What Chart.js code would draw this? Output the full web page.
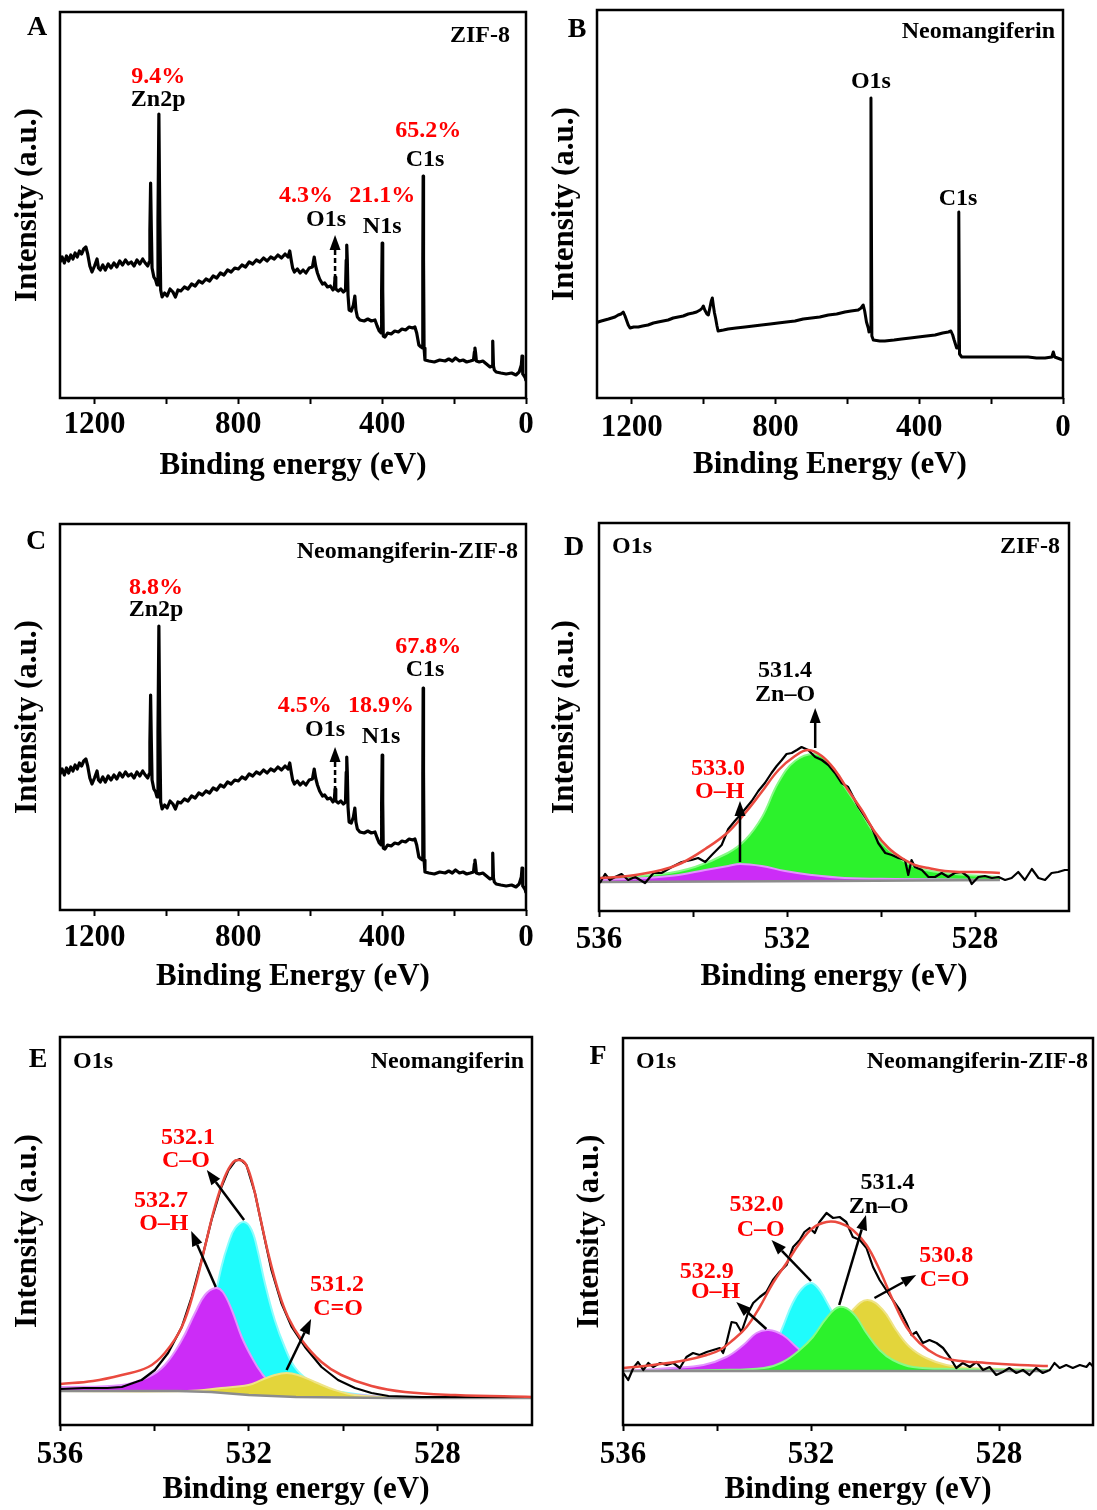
<!DOCTYPE html>
<html lang="en">
<head>
<meta charset="UTF-8">
<title>XPS survey and O1s spectra</title>
<script src="https://cdn.jsdelivr.net/npm/chart.js"></script>
<style>
  body { margin: 0; background: #fff; }
  .sheet { position: relative; width: 1097px; height: 1510px; background: #fff; }
  .sheet canvas { position: absolute; }
</style>
</head>
<body>
<div class="sheet">
  <canvas id="panelA" width="548" height="495" style="left:0;top:0"></canvas>
  <canvas id="panelB" width="557" height="495" style="left:540px;top:0"></canvas>
  <canvas id="panelC" width="548" height="495" style="left:0;top:510px"></canvas>
  <canvas id="panelD" width="557" height="495" style="left:540px;top:510px"></canvas>
  <canvas id="panelE" width="560" height="490" style="left:0;top:1020px"></canvas>
  <canvas id="panelF" width="537" height="490" style="left:560px;top:1020px"></canvas>
</div>
<script>
  // ---- axis ticks ----
  const surveyTicks = [1200, 1000, 800, 600, 400, 200, 0];
  const surveyLabels = [1200, 800, 400, 0];
  const o1sTicks = [536, 534, 532, 530, 528];
  const o1sLabels = [536, 532, 528];

  // ---- survey spectra: [binding energy (eV), counts (a.u.)] ----
  const zifSurvey = [[1296,136],[1290,141],[1284,135],[1278,142],[1272,137],[1266,143],[1260,139],[1254,145],[1248,141],[1242,147],[1236,144],[1230,149],[1224,151],[1219,144],[1213,132],[1207,126],[1200,132],[1193,139],[1189,130],[1184,128],[1177,133],[1170,128],[1162,134],[1154,130],[1146,135],[1138,131],[1130,137],[1122,133],[1114,138],[1106,134],[1098,136],[1090,132],[1082,138],[1074,134],[1066,139],[1059,135],[1052,132],[1048,136],[1046,168],[1044,215],[1042,168],[1040,130],[1035,121],[1030,118],[1026,113],[1023.5,178],[1021,284],[1018.5,178],[1016,108],[1012,101],[1005,105],[998,102],[990,109],[982,106],[975,101],[968,108],[960,107],[950,111],[940,109],[930,114],[920,112],[910,117],[900,115],[890,119],[880,117],[870,122],[860,120],[850,125],[840,123],[830,128],[820,126],[810,130],[800,129],[790,133],[780,131],[770,136],[760,134],[750,138],[740,136],[730,140],[720,137],[710,141],[700,139],[690,143],[680,140],[670,144],[662,141],[657,147],[653,138],[649,130],[644,126],[636,129],[628,125],[620,128],[612,125],[603,130],[594,131],[589,141],[585,132],[580,125],[574,119],[566,114],[560,115],[552,111],[544,112],[537,108],[533,111],[531,121],[529,109],[522,107],[515,109],[508,106],[502,108],[500,138],[498.5,153],[497,138],[495,103],[492,88],[486,87],[480,93],[476,102],[473,88],[469,81],[462,78],[450,77],[440,79],[430,77],[420,78],[414,72],[408,67],[403,65],[401.5,108],[400,155],[398.5,108],[397,62],[392,61],[385,65],[375,64],[365,67],[355,66],[345,69],[335,68],[325,71],[315,70],[309,71],[304,65],[298,53],[292,51],[288,50],[287,138],[286,222],[285,138],[283.5,50],[281,38],[270,37],[255,36],[240,38],[225,37],[215,39],[205,37],[196,40],[185,37],[175,38],[165,36],[155,37],[146,38],[143.5,46],[142,50],[140.5,46],[138,37],[130,36],[120,37],[110,34],[100,31],[94.5,32],[92.5,57],[90.5,32],[88,28],[83,26],[70,25],[55,24],[40,25],[28,23],[19,26],[13,33],[11,42],[9,24],[5,22],[2,20],[0,17]];

  const neoSurvey = [[1297,75],[1294,76],[1285,77],[1275,78],[1265,79],[1256,80],[1247,81],[1238,83],[1230,84],[1224,86],[1219,82],[1215,78],[1210,73],[1205,70],[1195,71],[1182,71],[1170,72],[1155,73],[1140,75],[1127,76],[1113,77],[1099,78],[1085,80],[1071,81],[1057,82],[1043,84],[1030,85],[1020,86],[1010,88],[1004,90],[1001,92],[997,88],[991,84],[987,83],[983,90],[979,97],[976,100],[973,92],[970,85],[967,80],[963,72],[960,67],[945,68],[932,69],[910,70],[885,71],[862,72],[839,73],[815,74],[793,75],[770,76],[746,77],[723,79],[700,80],[677,81],[653,83],[630,84],[607,86],[590,87],[570,88],[562,90],[556,93],[552,87],[547,76],[542,70],[540,66],[537,70],[534.5,300],[532,62],[528,58],[510,57],[496,57],[470,58],[449,59],[425,60],[403,61],[380,62],[356,63],[335,65],[319,66],[312,67],[307,63],[303,58],[296,50],[292,50],[290,186],[288,44],[282,41],[260,41],[236,41],[212,41],[189,41],[166,41],[143,41],[120,41],[97,41],[74,40],[50,40],[31,41],[27,46],[23,41],[8,39],[0,38]];

  const compSurvey = [[1296,136],[1290,141],[1284,135],[1278,142],[1272,137],[1266,143],[1260,139],[1254,145],[1248,141],[1242,147],[1236,144],[1230,149],[1224,151],[1219,144],[1213,132],[1207,126],[1200,132],[1193,139],[1189,130],[1184,128],[1177,133],[1170,128],[1162,134],[1154,130],[1146,135],[1138,131],[1130,137],[1122,133],[1114,138],[1106,134],[1098,136],[1090,132],[1082,138],[1074,134],[1066,139],[1059,135],[1052,132],[1048,136],[1046,168],[1044,215],[1042,168],[1040,130],[1035,121],[1030,118],[1026,113],[1023.5,178],[1021,284],[1018.5,178],[1016,108],[1012,101],[1005,105],[998,102],[990,109],[982,106],[975,101],[968,108],[960,107],[950,111],[940,109],[930,114],[920,112],[910,117],[900,115],[890,119],[880,117],[870,122],[860,120],[850,125],[840,123],[830,128],[820,126],[810,130],[800,129],[790,133],[780,131],[770,136],[760,134],[750,138],[740,136],[730,140],[720,137],[710,141],[700,139],[690,143],[680,140],[670,144],[662,141],[657,147],[653,138],[649,130],[644,126],[636,129],[628,125],[620,128],[612,125],[603,130],[594,131],[589,141],[585,132],[580,125],[574,119],[566,114],[560,115],[552,111],[544,112],[537,108],[533,111],[531,121],[529,109],[522,107],[515,109],[508,106],[502,108],[500,138],[498.5,153],[497,138],[495,103],[492,88],[486,87],[480,93],[476,102],[473,88],[469,81],[462,78],[450,77],[440,79],[430,77],[420,78],[414,72],[408,67],[403,65],[401.5,108],[400,155],[398.5,108],[397,62],[392,61],[385,65],[375,64],[365,67],[355,66],[345,69],[335,68],[325,71],[315,70],[309,71],[304,65],[298,53],[292,51],[288,50],[287,138],[286,222],[285,138],[283.5,50],[281,38],[270,37],[255,36],[240,38],[225,37],[215,39],[205,37],[196,40],[185,37],[175,38],[165,36],[155,37],[146,38],[143.5,46],[142,50],[140.5,46],[138,37],[130,36],[120,37],[110,34],[100,31],[94.5,32],[92.5,57],[90.5,32],[88,28],[83,26],[70,25],[55,24],[40,25],[28,23],[19,26],[13,33],[11,42],[9,24],[5,22],[2,20],[0,17]];

  // ---- O1s, ZIF-8 ----
  const zifPeaks = [531.4, 533.0];
  const zifO1sRaw = [[535.98,28],[535.87,37],[535.77,31],[535.66,34],[535.52,37],[535.38,31],[535.23,34],[535.02,28],[534.84,38],[534.67,38],[534.45,44],[534.24,49],[534.03,51],[533.89,53],[533.74,49],[533.60,56],[533.39,66],[533.25,82],[533.11,90],[532.96,98],[532.75,110],[532.61,120],[532.47,128],[532.33,138],[532.22,145],[532.11,151],[532.01,157],[531.90,158],[531.79,161],[531.69,164],[531.55,161],[531.40,154],[531.26,151],[531.12,146],[530.98,138],[530.84,128],[530.70,124],[530.48,104],[530.34,94],[530.20,84],[530.06,68],[529.91,58],[529.77,56],[529.63,53],[529.49,51],[529.42,36],[529.35,51],[529.28,44],[529.13,41],[528.99,34],[528.85,34],[528.71,38],[528.57,34],[528.43,38],[528.28,39],[528.14,34],[528.07,27],[527.93,34],[527.79,35],[527.64,33],[527.50,34],[527.36,31],[527.22,33],[527.08,39],[526.94,31],[526.79,42],[526.65,33],[526.51,31],[526.37,38],[526.23,39],[526.09,41],[526.02,41]];
  const zifO1sFit = [[535.98,33],[535.38,35],[534.67,41],[534.24,48],[533.74,62],[533.25,79],[532.89,98],[532.54,119],[532.18,141],[531.83,155],[531.55,161],[531.26,155],[530.98,141],[530.70,121],[530.41,101],[530.13,79],[529.84,63],[529.56,53],[529.28,46],[528.99,43],[528.64,40],[528.28,39],[527.93,39],[527.47,38]];
  const zifO1sBase = [[535.98,29],[531.0,30],[527.47,31]];
  const zifZnO = [[535.98,33],[534.66,37],[533.96,44],[533.26,58],[532.89,71],[532.53,94],[532.19,128],[531.83,150],[531.4,157],[531.1,147],[530.83,128],[530.49,104],[530.06,72],[529.70,56],[529.28,44],[528.64,38],[527.47,34]];
  const zifOH = [[535.98,31],[535.02,33],[534.31,36],[533.74,41],[533.25,45],[533.0,47],[532.54,45],[532.04,40],[531.48,36],[530.77,33],[529.70,32],[527.47,31]];

  // ---- O1s, Neomangiferin ----
  const neoPeaks = [532.1, 532.7, 531.2];
  const neoO1sRaw = [[536.0,36],[535.5,37],[535.0,37],[534.69,38],[534.27,45],[533.99,55],[533.71,72],[533.42,98],[533.21,128],[533.0,165],[532.79,205],[532.58,238],[532.43,255],[532.29,264],[532.19,266],[532.05,260],[531.87,232],[531.69,192],[531.52,155],[531.31,122],[531.09,98],[530.81,78],[530.46,58],[530.11,45],[529.75,37],[529.40,32],[529.04,29],[528.34,28],[527.0,28],[526.0,28]];
  const neoO1sFit = [[536.0,41],[535.3,44],[534.69,50],[534.13,58],[533.78,72],[533.42,98],[533.14,138],[532.93,178],[532.72,218],[532.51,248],[532.33,263],[532.2,265],[532.08,262],[531.94,245],[531.76,208],[531.59,172],[531.38,135],[531.17,108],[530.88,85],[530.46,63],[530.04,50],[529.40,39],[528.69,33],[527.63,30],[526.0,28]];
  const neoO1sBase = [[536.0,34],[533.5,34],[532.8,33],[532.0,30],[531.0,28],[529.0,27],[526.0,27]];
  const neoCO = [[536.0,37],[535.0,36],[534.0,37],[533.6,40],[533.3,50],[533.0,75],[532.8,110],[532.58,158],[532.43,182],[532.29,197],[532.1,203],[531.94,195],[531.80,172],[531.66,142],[531.45,105],[531.24,78],[531.03,58],[530.74,45],[530.39,37],[529.90,32],[529.04,28],[527.0,27],[526.0,27]];
  const neoOH = [[536.0,38],[534.69,40],[534.13,48],[533.78,60],[533.42,85],[533.14,112],[532.93,130],[532.7,137],[532.55,133],[532.36,115],[532.15,88],[531.94,68],[531.73,52],[531.52,42],[531.17,37],[530.46,33],[529.04,28],[527.0,27],[526.0,27]];
  const neoCdO = [[536.0,34],[533.3,34],[532.58,37],[532.01,40],[531.73,45],[531.45,50],[531.2,52],[530.96,50],[530.60,43],[530.18,35],[529.75,30],[529.04,28],[527.0,27],[526.0,27]];

  // ---- O1s, Neomangiferin-ZIF-8 ----
  const compPeaks = [532.0, 531.4, 530.8, 532.9];
  const compO1sRaw = [[535.99,52],[535.89,45],[535.78,57],[535.68,63],[535.57,55],[535.46,62],[535.36,58],[535.21,62],[535.07,60],[534.93,62],[534.79,57],[534.65,68],[534.51,72],[534.37,70],[534.22,73],[534.08,75],[533.94,77],[533.87,72],[533.80,82],[533.69,103],[533.59,102],[533.48,93],[533.34,112],[533.23,122],[533.09,128],[532.95,133],[532.81,145],[532.67,153],[532.52,160],[532.38,178],[532.24,185],[532.14,193],[532.03,197],[531.92,192],[531.82,203],[531.67,212],[531.53,207],[531.39,208],[531.25,203],[531.11,188],[530.96,185],[530.82,177],[530.68,158],[530.54,145],[530.40,135],[530.26,125],[530.11,115],[529.97,102],[529.86,90],[529.76,93],[529.62,82],[529.48,85],[529.33,82],[529.19,77],[529.05,68],[528.91,57],[528.77,62],[528.62,58],[528.48,63],[528.34,55],[528.20,58],[528.06,50],[527.92,53],[527.78,57],[527.63,52],[527.49,55],[527.35,50],[527.21,57],[527.07,52],[526.92,55],[526.82,62],[526.71,57],[526.57,60],[526.43,57],[526.28,60],[526.14,58],[526.07,62],[525.99,58]];
  const compO1sFit = [[535.99,57],[535.36,60],[534.65,65],[534.22,70],[533.94,75],[533.66,85],[533.37,98],[533.09,118],[532.81,142],[532.52,162],[532.24,182],[531.96,197],[531.67,203],[531.39,202],[531.11,195],[530.82,180],[530.54,155],[530.26,125],[529.97,98],[529.69,82],[529.33,70],[528.98,65],[528.27,62],[527.56,60],[526.96,59]];
  const compO1sBase = [[535.99,54],[531.0,54],[526.96,54]];
  const compOH = [[535.99,54],[535.0,57],[534.29,60],[533.80,68],[533.44,80],[533.16,92],[532.9,95],[532.60,90],[532.31,78],[532.03,67],[531.67,60],[531.11,57],[530.04,55],[526.96,54]];
  const compCO = [[535.99,54],[534.0,55],[533.3,57],[533.0,63],[532.8,76],[532.6,98],[532.4,121],[532.2,136],[532.0,142],[531.85,137],[531.7,126],[531.5,108],[531.3,86],[531.1,69],[530.8,58],[530.4,55],[526.96,54]];
  const compZnO = [[535.99,54],[534.0,55],[533.0,57],[532.6,63],[532.24,75],[531.96,88],[531.67,107],[531.4,118],[531.11,112],[530.82,92],[530.54,75],[530.26,65],[529.83,58],[528.98,56],[526.96,55]];
  const compCdO = [[535.99,54],[533.0,55],[532.2,57],[531.8,64],[531.5,82],[531.3,100],[531.11,115],[530.8,125],[530.47,115],[530.19,95],[529.90,78],[529.55,67],[529.12,60],[528.62,57],[526.96,55]];

  const SERIF = 'Liberation Serif';
  const axisFont = { family: SERIF, size: 31, weight: 'bold' };
  const RED = '#ff0000';
  const COLORS = {
    green: ['#2cf22c', '#86fb86'],
    magenta: ['#cc2cf7', '#e493ff'],
    cyan: ['#1ffcfc', '#8afdfd'],
    yellow: ['#e3d53b', '#efe485']
  };

  const pts = arr => arr.map(p => ({ x: p[0], y: p[1] }));

  function rawLine(arr, width) {
    return { data: pts(arr), borderColor: '#000', borderWidth: width, tension: 0, borderJoinStyle: 'round', order: 2 };
  }
  function fitLine(arr) {
    return { data: pts(arr), borderColor: '#ea4a3f', borderWidth: 2.5, tension: 0.4, order: 1 };
  }
  function baseLine(arr) {
    return { data: pts(arr), borderColor: '#8c8c8c', borderWidth: 2.5, tension: 0, order: 3 };
  }
  // a fitted component, filled down to the background line (dataset 0)
  function component(arr, color, order) {
    return {
      data: pts(arr), borderColor: COLORS[color][1], backgroundColor: COLORS[color][0],
      borderWidth: 2, fill: 0, tension: 0.4, order: order
    };
  }

  function drawArrow(ctx, x0, y0, x1, y1, dashed) {
    const ang = Math.atan2(y1 - y0, x1 - x0);
    const head = 15, half = 5.5;
    const bx = x1 - head * Math.cos(ang), by = y1 - head * Math.sin(ang);
    ctx.setLineDash(dashed ? [5, 3] : []);
    ctx.beginPath();
    ctx.moveTo(x0, y0);
    ctx.lineTo(bx, by);
    ctx.stroke();
    ctx.setLineDash([]);
    ctx.beginPath();
    ctx.moveTo(x1, y1);
    ctx.lineTo(bx + half * Math.sin(ang), by - half * Math.cos(ang));
    ctx.lineTo(bx - half * Math.sin(ang), by + half * Math.cos(ang));
    ctx.closePath();
    ctx.fill();
  }

  // frame, arrows, peak notes and panel captions
  function decor(o) {
    return {
      id: 'decor',
      afterDraw(chart) {
        const { ctx, chartArea: a, scales: { x, y } } = chart;
        ctx.save();
        ctx.strokeStyle = '#000';
        ctx.fillStyle = '#000';
        ctx.lineWidth = 2.5;
        ctx.strokeRect(a.left, a.top, a.right - a.left, a.bottom - a.top);
        (o.arrows || []).forEach(r => {
          drawArrow(ctx, x.getPixelForValue(r[0]), y.getPixelForValue(r[1]),
            x.getPixelForValue(r[2]), y.getPixelForValue(r[3]), r[4]);
        });
        ctx.textAlign = 'center';
        ctx.textBaseline = 'middle';
        ctx.font = 'bold 24px "' + SERIF + '"';
        (o.notes || []).forEach(n => {
          ctx.fillStyle = n.color || '#000';
          ctx.fillText(n.text, x.getPixelForValue(n.x), y.getPixelForValue(n.y));
        });
        ctx.fillStyle = '#000';
        if (o.left) {
          ctx.textAlign = 'left';
          ctx.fillText(o.left, a.left + 13, a.top + o.capY);
        }
        if (o.right) {
          ctx.textAlign = 'right';
          ctx.fillText(o.right, a.right - o.inset, a.top + o.capY);
        }
        ctx.textAlign = 'center';
        ctx.font = 'bold 28px "' + SERIF + '"';
        ctx.fillText(o.letter[0], a.left + o.letter[1], a.top + o.letter[2]);
        ctx.restore();
      }
    };
  }

  function panel(id, o) {
    return new Chart(document.getElementById(id), {
      type: 'line',
      data: { datasets: o.datasets },
      options: {
        responsive: false,
        animation: false,
        events: [],
        layout: { autoPadding: false, padding: { top: o.pad[0], right: o.pad[1], bottom: 0, left: 0 } },
        elements: { point: { radius: 0 } },
        plugins: { legend: { display: false }, tooltip: { enabled: false }, colors: { enabled: false } },
        scales: {
          x: {
            type: 'linear', reverse: true, min: o.range[0], max: o.range[1],
            afterBuildTicks: s => { s.ticks = o.ticks.map(v => ({ value: v })); },
            afterFit: s => { s.height = o.xh; },
            border: { display: false },
            grid: { drawOnChartArea: false, tickLength: 6, tickWidth: 2, tickColor: '#000' },
            ticks: {
              color: '#000', font: axisFont, padding: o.tickPad, maxRotation: 0, autoSkip: false,
              callback: v => (o.labels.includes(v) ? String(v) : '')
            },
            title: { display: true, text: o.xTitle, color: '#000', font: axisFont, padding: { top: 0, bottom: o.xTitlePad } }
          },
          y: {
            min: 0, max: o.ymax,
            afterFit: s => { s.width = o.yw; },
            border: { display: false },
            grid: { display: false },
            ticks: { display: false },
            title: { display: true, text: 'Intensity (a.u.)', color: '#000', font: axisFont, padding: { top: o.yTitlePad, bottom: 0 } }
          }
        }
      },
      plugins: [decor(o.decor)]
    });
  }

  // A - ZIF-8 survey
  panel('panelA', {
    range: [0, 1296], ticks: surveyTicks, labels: surveyLabels, ymax: 386,
    pad: [12, 22], yw: 60, xh: 97, tickPad: 2.4, xTitlePad: 10.4, yTitlePad: 9.4,
    xTitle: 'Binding energy (eV)',
    datasets: [rawLine(zifSurvey, 3.2)],
    decor: {
      letter: ['A', -23, 16], right: 'ZIF-8', inset: 16, capY: 24,
      arrows: [[531, 111, 531, 163, true]],
      notes: [
        { x: 1023, y: 321, text: '9.4%', color: RED }, { x: 1023, y: 298, text: 'Zn2p' },
        { x: 612, y: 202, text: '4.3%', color: RED }, { x: 556, y: 178, text: 'O1s' },
        { x: 400, y: 202, text: '21.1%', color: RED }, { x: 400, y: 171, text: 'N1s' },
        { x: 272, y: 267, text: '65.2%', color: RED }, { x: 281, y: 238, text: 'C1s' }
      ]
    }
  });

  // B - Neomangiferin survey
  panel('panelB', {
    range: [0, 1297], ticks: surveyTicks, labels: surveyLabels, ymax: 388,
    pad: [10, 34], yw: 57, xh: 97, tickPad: 5.4, xTitlePad: 11.4, yTitlePad: 6.4,
    xTitle: 'Binding Energy (eV)',
    datasets: [rawLine(neoSurvey, 3)],
    decor: {
      letter: ['B', -20, 20], right: 'Neomangiferin', inset: 8, capY: 22,
      notes: [{ x: 534.5, y: 316, text: 'O1s' }, { x: 292, y: 199, text: 'C1s' }]
    }
  });

  // C - Neomangiferin-ZIF-8 survey
  panel('panelC', {
    range: [0, 1296], ticks: surveyTicks, labels: surveyLabels, ymax: 386,
    pad: [14, 22], yw: 60, xh: 95, tickPad: 3.4, xTitlePad: 9.4, yTitlePad: 9.4,
    xTitle: 'Binding Energy (eV)',
    datasets: [rawLine(compSurvey, 3.2)],
    decor: {
      letter: ['C', -24, 18], right: 'Neomangiferin-ZIF-8', inset: 8, capY: 28,
      arrows: [[531, 111, 531, 163, true]],
      notes: [
        { x: 1029, y: 322, text: '8.8%', color: RED }, { x: 1029, y: 300, text: 'Zn2p' },
        { x: 615, y: 204, text: '4.5%', color: RED }, { x: 559, y: 180, text: 'O1s' },
        { x: 403, y: 204, text: '18.9%', color: RED }, { x: 403, y: 173, text: 'N1s' },
        { x: 272, y: 263, text: '67.8%', color: RED }, { x: 281, y: 240, text: 'C1s' }
      ]
    }
  });

  // D - ZIF-8 O1s
  panel('panelD', {
    range: [526, 536], ticks: o1sTicks, labels: o1sLabels, ymax: 388,
    pad: [13, 28], yw: 59, xh: 94, tickPad: 4.4, xTitlePad: 9.4, yTitlePad: 6.4,
    xTitle: 'Binding energy (eV)',
    datasets: [
      baseLine(zifO1sBase),
      component(zifZnO, 'green', 9),
      component(zifOH, 'magenta', 8),
      rawLine(zifO1sRaw, 2.2),
      fitLine(zifO1sFit)
    ],
    decor: {
      letter: ['D', -25, 25], left: 'O1s', right: 'ZIF-8', inset: 9, capY: 24,
      arrows: [[zifPeaks[0], 163, zifPeaks[0], 203], [zifPeaks[1], 49, zifPeaks[1], 110]],
      notes: [
        { x: 532.04, y: 240, text: zifPeaks[0].toFixed(1) }, { x: 532.04, y: 216, text: 'Zn–O' },
        { x: 533.47, y: 142, text: zifPeaks[1].toFixed(1), color: RED }, { x: 533.43, y: 119, text: 'O–H', color: RED }
      ]
    }
  });

  // E - Neomangiferin O1s
  panel('panelE', {
    range: [526, 536], ticks: o1sTicks, labels: o1sLabels, ymax: 388,
    pad: [17, 28], yw: 60, xh: 85, tickPad: 5.4, xTitlePad: 1.4, yTitlePad: 9.4,
    xTitle: 'Binding energy (eV)',
    datasets: [
      baseLine(neoO1sBase),
      component(neoCO, 'cyan', 9),
      component(neoOH, 'magenta', 8),
      component(neoCdO, 'yellow', 7),
      rawLine(neoO1sRaw, 2.2),
      fitLine(neoO1sFit)
    ],
    decor: {
      letter: ['E', -22, 23], left: 'O1s', right: 'Neomangiferin', inset: 8, capY: 25,
      arrows: [
        [neoPeaks[0], 205, 532.89, 255],
        [neoPeaks[1], 138, 533.22, 194],
        [neoPeaks[2], 55, 530.68, 106]
      ],
      notes: [
        { x: 533.29, y: 287, text: neoPeaks[0].toFixed(1), color: RED }, { x: 533.33, y: 264, text: 'C–O', color: RED },
        { x: 533.86, y: 224, text: neoPeaks[1].toFixed(1), color: RED }, { x: 533.80, y: 201, text: 'O–H', color: RED },
        { x: 530.13, y: 140, text: neoPeaks[2].toFixed(1), color: RED }, { x: 530.11, y: 116, text: 'C=O', color: RED }
      ]
    }
  });

  // F - Neomangiferin-ZIF-8 O1s
  panel('panelF', {
    range: [526, 536], ticks: o1sTicks, labels: o1sLabels, ymax: 387,
    pad: [18, 4], yw: 63, xh: 85, tickPad: 5.4, xTitlePad: 1.4, yTitlePad: 11.4,
    xTitle: 'Binding energy (eV)',
    datasets: [
      baseLine(compO1sBase),
      component(compCO, 'cyan', 9),
      component(compCdO, 'yellow', 8),
      component(compOH, 'magenta', 7),
      component(compZnO, 'green', 6),
      rawLine(compO1sRaw, 2.2),
      fitLine(compO1sFit)
    ],
    decor: {
      letter: ['F', -25, 19], left: 'O1s', right: 'Neomangiferin-ZIF-8', inset: 5, capY: 24,
      arrows: [
        [compPeaks[0], 144, 532.84, 185],
        [compPeaks[1], 120, 530.83, 210],
        [530.65, 127, 529.76, 150],
        [532.95, 96, 533.59, 123]
      ],
      notes: [
        { x: 533.16, y: 220, text: compPeaks[0].toFixed(1), color: RED }, { x: 533.07, y: 195, text: 'C–O', color: RED },
        { x: 530.37, y: 242, text: compPeaks[1].toFixed(1) }, { x: 530.56, y: 218, text: 'Zn–O' },
        { x: 529.12, y: 169, text: compPeaks[2].toFixed(1), color: RED }, { x: 529.16, y: 145, text: 'C=O', color: RED },
        { x: 534.22, y: 153, text: compPeaks[3].toFixed(1), color: RED }, { x: 534.03, y: 133, text: 'O–H', color: RED }
      ]
    }
  });
</script>
</body>
</html>
